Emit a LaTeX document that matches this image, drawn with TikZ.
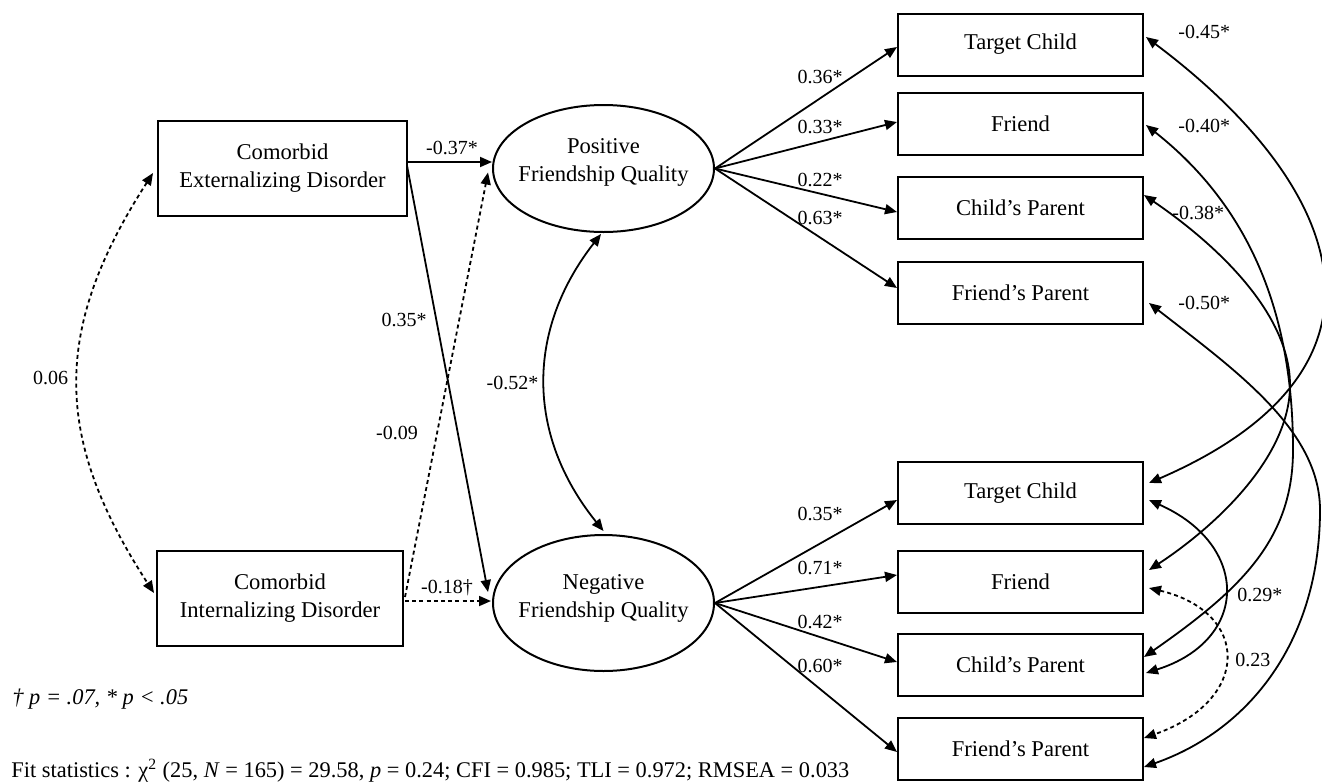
\documentclass[tikz,border=0pt]{standalone}
\usepackage{fontspec}
\setmainfont{Liberation Serif}
\usetikzlibrary{arrows.meta,calc,shapes.geometric}
\begin{document}
\begin{tikzpicture}[x=0.5pt,y=-0.5pt,
  tip/.tip={Triangle[length=6pt,width=5pt]},
  box/.style={draw,line width=1pt,inner sep=0pt,align=center,font=\fontsize{11.3}{14}\selectfont},
  ind/.style={box,minimum width=122.5pt,minimum height=31pt},
  lat/.style={draw,ellipse,line width=1pt,inner sep=0pt,minimum width=110.5pt},
  txt/.style={inner sep=0pt,align=center,font=\fontsize{11.3}{14}\selectfont},
  lbl/.style={inner sep=0pt,font=\fontsize{10}{12}\selectfont},
  note/.style={inner sep=0pt,anchor=west,font=\fontsize{11.2}{13}\selectfont},
  reg/.style={-tip,line width=0.9pt},
  cov/.style={tip-tip,line width=0.9pt},
  dsh/.style={dash pattern=on 2pt off 1.6pt}]
\useasboundingbox (0,0) rectangle (1322,782);

% exogenous boxes
\node[box,minimum width=124.5pt,minimum height=47.5pt] (ext) at (282.5,168.5) {Comorbid\\Externalizing Disorder};
\node[box,minimum width=123pt,minimum height=47.5pt] (int) at (280,598.5) {Comorbid\\Internalizing Disorder};

% latent factors
\node[lat,minimum height=63.5pt] (pos) at (603.5,168.5) {};
\node[txt] (posl) at (603.5,162) {Positive\\Friendship Quality};
\node[lat,minimum height=68pt] (neg) at (603.5,603) {};
\node[txt] (negl) at (603.5,598.5) {Negative\\Friendship Quality};

% indicators
\node[ind] (tc1) at (1020.5,44.5) {Target Child};
\node[ind] (fr1) at (1020.5,124) {Friend};
\node[ind] (cp1) at (1020.5,208) {Child’s Parent};
\node[ind] (fp1) at (1020.5,293) {Friend’s Parent};
\node[ind] (tc2) at (1020.5,493) {Target Child};
\node[ind] (fr2) at (1020.5,581.5) {Friend};
\node[ind] (cp2) at (1020.5,665) {Child’s Parent};
\node[ind] (fp2) at (1020.5,748.5) {Friend’s Parent};

% structural paths
\draw[reg] ($(ext.east)+(0,-6.5)$) -- ($(pos.west)+(0,-6.5)$);
\draw[reg] ($(ext.east)+(-1,-3)$) -- ($(neg.west)+(-4,-11)$);
\draw[reg,dsh] ($(int.east)+(1,-1.5)$) -- ($(pos.west)+(-4,4)$);
\draw[reg,dsh] ($(int.east)+(1,2.5)$) -- ($(neg.west)+(-1,-2)$);
\node[lbl] (l037) at (452,148) {-0.37*};
\node[lbl] (l035) at (404,320) {0.35*};
\node[lbl] (l009) at (397,433) {-0.09};
\node[lbl] (l018) at (447,588) {-0.18†};

% covariances left
\draw[cov,dsh] ($(ext.west)+(-4,4.5)$) .. controls (52.5,329) and (52.5,437) .. ($(int.west)+(-2,-5.5)$);
\node[lbl] (l006) at (50.5,378) {0.06};
\draw[cov] ($(pos.south)+(-2.5,1)$) .. controls (526,330) and (526,435) .. ($(neg.north)+(0,-3)$);
\node[lbl] (l052) at (512.5,383) {-0.52*};

% loadings positive
\draw[reg] (pos.east) -- ($(tc1.west)+(0,2.5)$);
\draw[reg] (pos.east) -- ($(fr1.west)+(0,-2)$);
\draw[reg] (pos.east) -- ($(cp1.west)+(0,4)$);
\draw[reg] (pos.east) -- ($(fp1.west)+(0,-5)$);
\node[lbl] (p1) at (820,77) {0.36*};
\node[lbl] (p2) at (820,127) {0.33*};
\node[lbl] (p3) at (820,180) {0.22*};
\node[lbl] (p4) at (820,218) {0.63*};

% loadings negative
\draw[reg] (neg.east) -- ($(tc2.west)+(0,7)$);
\draw[reg] (neg.east) -- ($(fr2.west)+(0,-6.5)$);
\draw[reg] (neg.east) -- ($(cp2.west)+(0,-3)$);
\draw[reg] (neg.east) -- ($(fp2.west)+(0,3.5)$);
\node[lbl] (n1) at (820,514) {0.35*};
\node[lbl] (n2) at (820,568) {0.71*};
\node[lbl] (n3) at (820,622) {0.42*};
\node[lbl] (n4) at (820,666) {0.60*};

% residual covariances
\draw[cov] ($(tc1.east)+(2,-7.5)$) .. controls (1350,190) and (1410,370) .. ($(tc2.east)+(5,-10)$);
\draw[cov] ($(fr1.east)+(2,1)$) .. controls (1260,215) and (1293,330) .. (1293,450)
   .. controls (1293,540) and (1240,590) .. ($(cp2.east)+(0,-8)$);
\draw[cov] ($(cp1.east)+(0,-13)$) .. controls (1210,240) and (1290,310) .. (1290,385)
   .. controls (1290,460) and (1210,530) .. ($(fr2.east)+(5,-11.5)$);
\draw[cov] ($(fp1.east)+(5,10)$) .. controls (1235,370) and (1320,430) .. (1320,510)
   .. controls (1320,640) and (1250,730) .. ($(fp2.east)+(0,18.5)$);
\draw[cov] ($(tc2.east)+(5,7)$) .. controls (1250,545) and (1250,640) .. ($(cp2.east)+(2,8)$);
\draw[cov,dsh] ($(fr2.east)+(5,6.5)$) .. controls (1250,612) and (1252,700) .. ($(fp2.east)+(0,-10.5)$);
\node[lbl,anchor=west] (r1) at (1178,32) {-0.45*};
\node[lbl,anchor=west] (r2) at (1178,126) {-0.40*};
\node[lbl,anchor=west] (r3) at (1172,213) {-0.38*};
\node[lbl,anchor=west] (r4) at (1178,303) {-0.50*};
\node[lbl,anchor=west] (r5) at (1237,595) {0.29*};
\node[lbl,anchor=west] (r6) at (1235,660) {0.23};

% notes
\node[note] (sig) at (12,699) {\itshape † p = .07, * p < .05};
\node[note] (fit) at (11,771) {Fit statistics : χ\textsuperscript{2} (25, \textit{N} = 165) = 29.58, \textit{p} = 0.24; CFI = 0.985; TLI = 0.972; RMSEA = 0.033};
\end{tikzpicture}
\end{document}
